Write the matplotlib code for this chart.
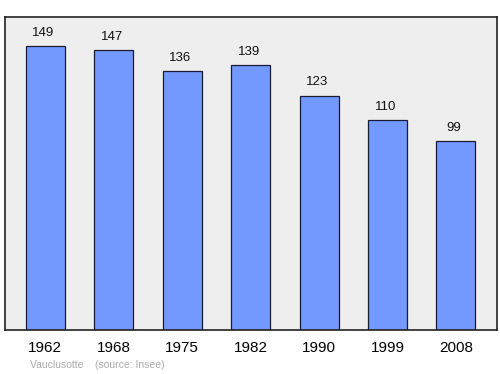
import matplotlib
matplotlib.use("Agg")
import matplotlib.pyplot as plt

plt.rcParams['font.family'] = ['Liberation Sans', 'DejaVu Sans']

years = ["1962", "1968", "1975", "1982", "1990", "1999", "2008"]
population = [149, 147, 136, 139, 123, 110, 99]

fig = plt.figure(figsize=(5.0, 3.74), dpi=100)
ax = fig.add_axes([5/500, 1 - 330/374, 492/500, 313/374])
ax.set_facecolor("#eeeeee")
x = list(range(len(years)))
ax.bar(x, population, width=0.57, color="#7399ff", edgecolor="#1a1a33", linewidth=0.9)
for xi, v in zip(x, population):
    ax.text(xi - 0.03, v + 3.8, str(v), ha="center", va="bottom", fontsize=9.5, color="#111111")
ax.set_xlim(-0.59, 6.6)
ax.set_ylim(0, 164.2)
ax.set_yticks([])
ax.set_xticks(x)
ax.set_xticklabels(years, fontsize=11)
ax.tick_params(axis="x", length=0, pad=8)
for s in ax.spines.values():
    s.set_linewidth(1.2)
    s.set_color("#222222")
fig.text(30/500, 1 - 365/374, "Vauclusotte    (source: Insee)", fontsize=7.5, color="#aaaaaa", va="center")
fig.savefig("out.png", dpi=100)
